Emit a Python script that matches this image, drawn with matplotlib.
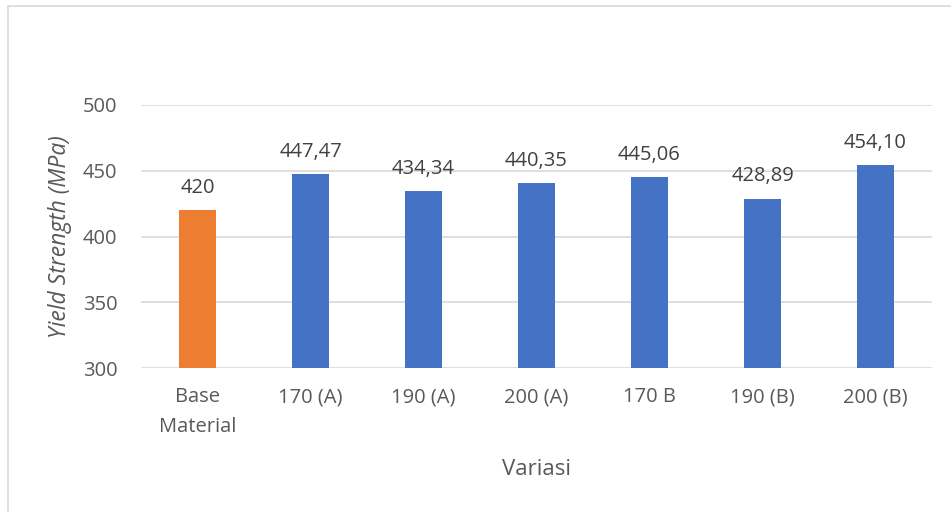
import matplotlib
matplotlib.use("Agg")
import matplotlib.pyplot as plt
from matplotlib.patches import Rectangle

categories = ["Base\nMaterial", "170 (A)", "190 (A)", "200 (A)", "170 B", "190 (B)", "200 (B)"]
values = [420, 447.47, 434.34, 440.35, 445.06, 428.89, 454.10]
labels = ["420", "447,47", "434,34", "440,35", "445,06", "428,89", "454,10"]
colors = ["#ED7D31"] + ["#4472C4"] * 6
yticks = [300, 350, 400, 450, 500]

plt.rcParams["font.family"] = ["Open Sans", "DejaVu Sans"]
text_color = "#595959"

W, H = 951, 512
fig = plt.figure(figsize=(W / 100, H / 100), dpi=100)
ax = fig.add_axes([141 / W, 1 - 368 / H, (932 - 141) / W, (368 - 105) / H])

x = list(range(len(categories)))
ax.bar(x, values, width=0.32, color=colors, zorder=3)
for xi, v, lab in zip(x, values, labels):
    ax.annotate(lab, (xi, v), xytext=(0, 9), textcoords="offset points",
                ha="center", va="bottom", fontsize=14.5, color="#404040")

ax.set_xlim(-0.5, len(categories) - 0.5)
ax.set_ylim(300, 500)
ax.set_yticks(yticks)
ax.set_yticklabels([str(t) for t in yticks])
ax.set_xticks(x)
ax.set_xticklabels(categories, linespacing=1.65)
ax.tick_params(axis="both", length=0, labelsize=14.5, colors=text_color)
ax.tick_params(axis="y", pad=17)
ax.tick_params(axis="x", pad=14)
ax.grid(axis="y", color="#D9D9D9", linewidth=1.2, zorder=0)
for s in ax.spines.values():
    s.set_visible(False)

ax.set_ylabel("Yield Strength (MPa)", fontsize=16.5, style="italic", color=text_color, labelpad=8)
ax.set_xlabel("Variasi", fontsize=16, color=text_color, labelpad=16)

fig.patches.append(Rectangle((8 / W, -0.1), 1.2, 1 - 6 / H + 0.1, transform=fig.transFigure,
                             fill=False, edgecolor="#D9D9D9", linewidth=1.2))

fig.savefig("out.png", dpi=100)
